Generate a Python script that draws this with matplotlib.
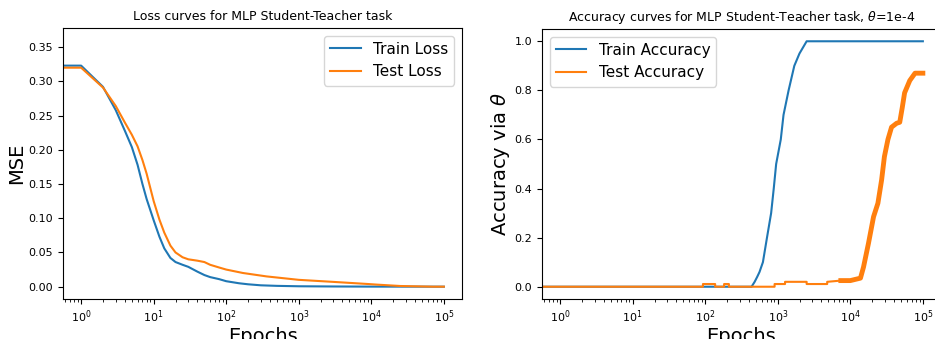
import numpy as np
import matplotlib
matplotlib.use("Agg")
from matplotlib import pyplot as plt

# loss curves (epoch 0 point is off the log axis, but sets the y range)
train_loss_epochs = [0, 1, 2, 3, 4, 5, 6, 7, 8, 10, 12, 14, 17, 20, 25, 30, 40,
                     50, 60, 80, 100, 150, 200, 300, 500, 1000, 3000, 10000, 100000]
train_loss = [0.36, 0.323, 0.292, 0.258, 0.228, 0.204, 0.178, 0.150, 0.128, 0.097,
              0.073, 0.056, 0.042, 0.036, 0.032, 0.029, 0.022, 0.017, 0.014, 0.011,
              0.008, 0.005, 0.0035, 0.002, 0.0012, 0.0006, 0.0003, 0.0001, 0.0]

test_loss_epochs = [0, 1, 2, 3, 4, 5, 6, 7, 8, 10, 12, 14, 17, 20, 25, 30, 40,
                    50, 60, 80, 100, 170, 360, 1000, 3000, 8700, 12000, 25000,
                    70000, 100000]
test_loss = [0.36, 0.320, 0.291, 0.264, 0.240, 0.222, 0.205, 0.185, 0.165, 0.125,
             0.098, 0.079, 0.060, 0.050, 0.043, 0.040, 0.038, 0.036, 0.032, 0.028,
             0.025, 0.020, 0.015, 0.010, 0.007, 0.004, 0.003, 0.001, 0.0, 0.0]

# accuracy curves
train_acc_epochs = [0, 1, 435, 480, 520, 560, 624, 710, 810, 880, 950, 1100, 1200,
                    1410, 1690, 1990, 2500, 100000]
train_acc = [0.0, 0.0, 0.0, 0.02, 0.04, 0.06, 0.10, 0.20, 0.30, 0.40, 0.50, 0.60,
             0.70, 0.80, 0.90, 0.95, 1.0, 1.0]

test_acc_epochs = [0, 1, 93, 93, 137, 137, 182, 182, 212, 212, 904, 904, 1260, 1260,
                   2500, 2500, 4800, 4800, 7400, 10000, 13800, 15200, 17800, 20900,
                   24000, 27000, 29500, 33000, 37000, 43500, 48000, 52000, 56000,
                   66000, 78000, 100000]
test_acc = [0.0, 0.0, 0.0, 0.011, 0.011, 0.0, 0.0, 0.011, 0.011, 0.0, 0.0, 0.011,
            0.011, 0.02, 0.02, 0.011, 0.011, 0.02, 0.025, 0.025, 0.035, 0.08, 0.177,
            0.285, 0.34, 0.435, 0.53, 0.60, 0.65, 0.666, 0.67, 0.73, 0.79, 0.84,
            0.87, 0.87]
noisy_from = 7400


def main():
    fig = plt.figure(figsize=(9.35, 3.39), dpi=100)
    ax1 = fig.add_axes([63 / 935, 40 / 339, 399 / 935, 271 / 339])
    ax2 = fig.add_axes([542 / 935, 40 / 339, 399 / 935, 270 / 339])

    ax1.plot(train_loss_epochs, train_loss, label="Train Loss")
    ax1.plot(test_loss_epochs, test_loss, label="Test Loss")
    ax1.set_xscale("log")
    ax1.set_title("Loss curves for MLP Student-Teacher task", fontsize=9)
    ax1.set_xlabel("Epochs", fontsize=14, labelpad=1)
    ax1.set_ylabel("MSE", fontsize=14, labelpad=2)
    ax1.tick_params(labelsize=8)
    ax1.legend(loc="upper right", fontsize=11)

    ax2.plot(train_acc_epochs, train_acc, label="Train Accuracy")
    ax2.plot(test_acc_epochs, test_acc, label="Test Accuracy")
    ep = np.array(test_acc_epochs)
    acc = np.array(test_acc)
    noisy = ep >= noisy_from
    ax2.plot(ep[noisy], acc[noisy], color="C1", lw=3.5)
    ax2.set_xscale("log")
    ax2.set_title(r"Accuracy curves for MLP Student-Teacher task, $\theta$=1e-4", fontsize=9)
    ax2.set_xlabel("Epochs", fontsize=14, labelpad=1)
    ax2.set_ylabel(r"Accuracy via $\theta$", fontsize=14, labelpad=2)
    ax2.tick_params(labelsize=8)
    ax2.legend(loc="upper left", fontsize=11)

    fig.savefig("out.png", dpi=100)


if __name__ == "__main__":
    main()
